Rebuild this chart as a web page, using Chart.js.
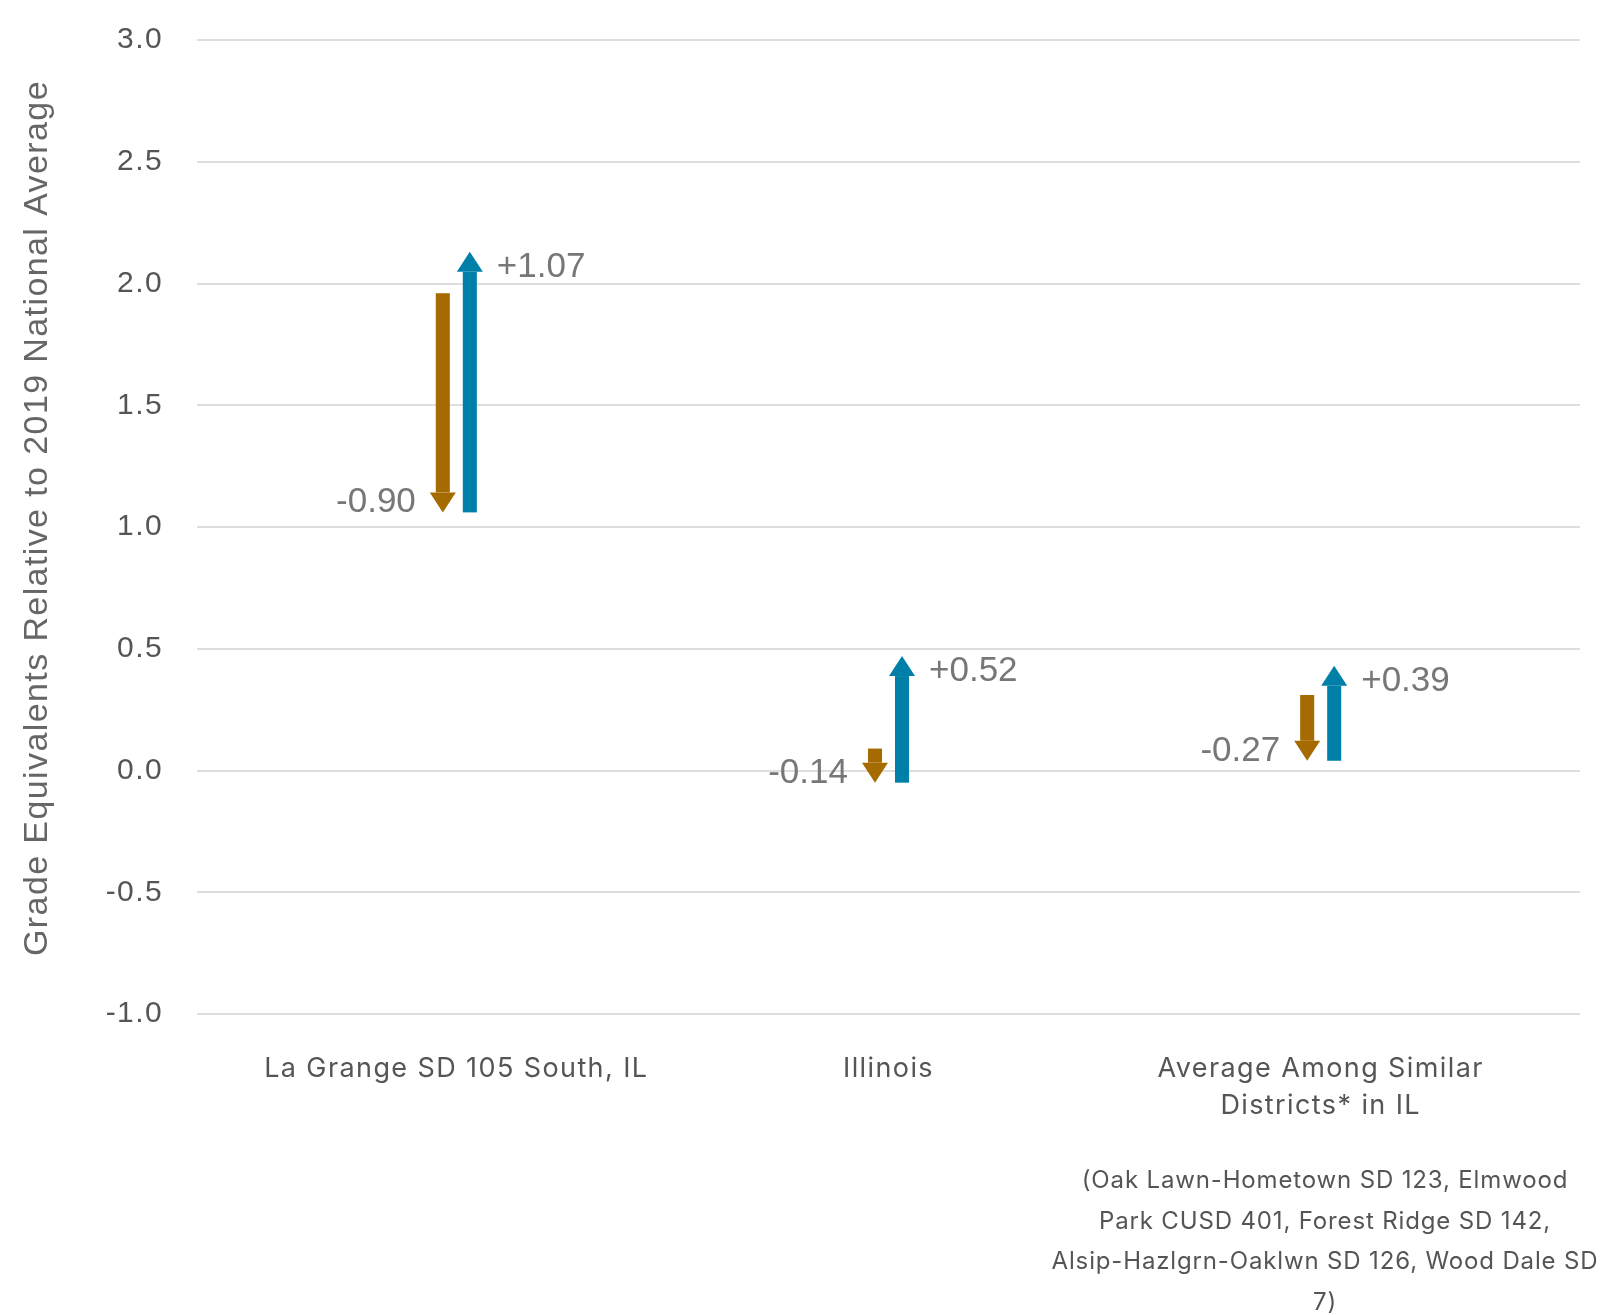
<!DOCTYPE html>
<html>
<head>
<meta charset="utf-8">
<script src="https://cdn.jsdelivr.net/npm/chart.js@4"></script>
<style>
  html, body { margin: 0; padding: 0; background: #ffffff; }
  #wrap { position: relative; width: 1600px; height: 1315px; }
  #c { position: absolute; left: 0; top: 0; }
  #note {
    position: absolute; left: 1035px; top: 1160px; width: 580px;
    font-family: Inter, 'Noto Sans', sans-serif; font-size: 24px; line-height: 40.5px;
    color: #555555; text-align: center; letter-spacing: 0.85px;
  }
</style>
</head>
<body>
<div id="wrap">
  <canvas id="c" width="1600" height="1315"></canvas>
  <div id="note">(Oak Lawn-Hometown SD 123, Elmwood<br>Park CUSD 401, Forest Ridge SD 142,<br>Alsip-Hazlgrn-Oaklwn SD 126, Wood Dale SD<br>7)</div>
</div>
<script>
// ---- data ----
const categories = [
  ["La Grange SD 105 South, IL"],
  ["Illinois"],
  ["Average Among Similar", "Districts* in IL"]
];
const categoryPositions = [0, 1, 2];
const startLevels = [1.96, 0.09, 0.31];      // level before decline
const declines = [-0.90, -0.14, -0.27];      // brown arrows
const recoveries = [1.07, 0.52, 0.39];       // blue arrows
const yTickValues = [-1.0, -0.5, 0.0, 0.5, 1.0, 1.5, 2.0, 2.5, 3.0];
const yTitle = 'Grade Equivalents Relative to 2019 National Average';

const brown = '#A56A00';
const blue = '#007FA8';

const declineData = categoryPositions.map((x, i) => ({ x: x, y: [startLevels[i], startLevels[i] + declines[i]], change: declines[i] }));
const recoveryData = categoryPositions.map((x, i) => {
  const low = startLevels[i] + declines[i];
  return { x: x, y: [low, low + recoveries[i]], change: recoveries[i] };
});

function fmt(v) {
  return (v > 0 ? '+' : '') + v.toFixed(2);
}

const spacingPlugin = {
  id: 'spacing',
  beforeLayout(chart) { chart.ctx.letterSpacing = '1.4px'; },
  beforeDraw(chart) { chart.ctx.letterSpacing = '1.4px'; }
};

const titlePlugin = {
  id: 'ytitle',
  afterDraw(chart) {
    const ctx = chart.ctx;
    const a = chart.chartArea;
    ctx.save();
    ctx.letterSpacing = '1.4px';
    ctx.translate(38, (a.top + a.bottom) / 2 - 9);
    ctx.rotate(-Math.PI / 2);
    ctx.font = '34px "Liberation Sans", Arial, sans-serif';
    ctx.fillStyle = '#666666';
    ctx.textAlign = 'center';
    ctx.textBaseline = 'middle';
    ctx.fillText(yTitle, 0, 0);
    ctx.restore();
  }
};

const arrowPlugin = {
  id: 'arrows',
  afterDatasetsDraw(chart) {
    const ctx = chart.ctx;
    const yScale = chart.scales.y;
    const headH = 20, headW = 26;
    chart.data.datasets.forEach((ds, di) => {
      const meta = chart.getDatasetMeta(di);
      meta.data.forEach((el, j) => {
        const raw = ds.data[j];
        const y0 = yScale.getPixelForValue(raw.y[0]);
        const y1 = yScale.getPixelForValue(raw.y[1]);
        const dir = y1 < y0 ? -1 : 1; // -1 up, 1 down
        const x = el.x;
        const w = el.width;
        ctx.save();
        ctx.letterSpacing = '0px';
        ctx.fillStyle = ds.arrowColor;
        const shaftEnd = y1 - dir * headH;
        ctx.fillRect(x - w / 2, Math.min(y0, shaftEnd), w, Math.abs(shaftEnd - y0));
        ctx.beginPath();
        ctx.moveTo(x - headW / 2, shaftEnd);
        ctx.lineTo(x + headW / 2, shaftEnd);
        ctx.lineTo(x, y1);
        ctx.closePath();
        ctx.fill();
        // label
        ctx.font = '35px "Liberation Sans", Arial, sans-serif';
        ctx.fillStyle = '#777777';
        ctx.textBaseline = 'alphabetic';
        if (dir > 0) {
          ctx.textAlign = 'right';
          ctx.fillText(fmt(raw.change), x - 27, y1);
        } else {
          ctx.textAlign = 'left';
          ctx.fillText(fmt(raw.change), x + 27, y1 + 25);
        }
        ctx.restore();
      });
    });
  }
};

new Chart(document.getElementById('c'), {
  type: 'bar',
  data: {
    datasets: [
      {
        label: 'Decline',
        data: declineData,
        backgroundColor: 'rgba(0,0,0,0)',
        arrowColor: brown,
        categoryPercentage: 0.125,
        barPercentage: 0.52
      },
      {
        label: 'Recovery',
        data: recoveryData,
        backgroundColor: 'rgba(0,0,0,0)',
        arrowColor: blue,
        categoryPercentage: 0.125,
        barPercentage: 0.52
      }
    ]
  },
  options: {
    responsive: false,
    animation: false,
    devicePixelRatio: 1,
    layout: { padding: { left: 0, right: 20, top: 40, bottom: 0 } },
    plugins: { legend: { display: false }, tooltip: { enabled: false } },
    scales: {
      x: {
        type: 'linear',
        offset: false,
        min: -0.6,
        max: 2.6,
        afterBuildTicks: (s) => { s.ticks = categoryPositions.map(v => ({ value: v })); },
        afterFit: (s) => { s.height = 301; },
        grid: { display: false, drawTicks: false, offset: false },
        border: { display: false },
        ticks: {
          autoSkip: false,
          maxRotation: 0,
          padding: 36,
          color: '#555555',
          font: { family: 'Inter, "Noto Sans", sans-serif', size: 27, lineHeight: 1.37 },
          callback: (v) => {
            const i = categoryPositions.indexOf(v);
            return i >= 0 ? categories[i] : '';
          }
        }
      },
      y: {
        min: -1,
        max: 3,
        afterBuildTicks: (s) => { s.ticks = yTickValues.map(v => ({ value: v })); },
        afterFit: (s) => { s.width = 197; s.paddingTop = 0; s.paddingBottom = 0; },
        grid: { color: '#dedede', lineWidth: 2, drawTicks: false },
        border: { display: false },
        ticks: {
          padding: 34,
          color: '#555555',
          font: { family: '"Liberation Sans", Arial, sans-serif', size: 30 },
          callback: (v) => Number(v).toFixed(1)
        },
        title: { display: false }
      }
    }
  },
  plugins: [spacingPlugin, arrowPlugin, titlePlugin]
});
</script>
</body>
</html>
